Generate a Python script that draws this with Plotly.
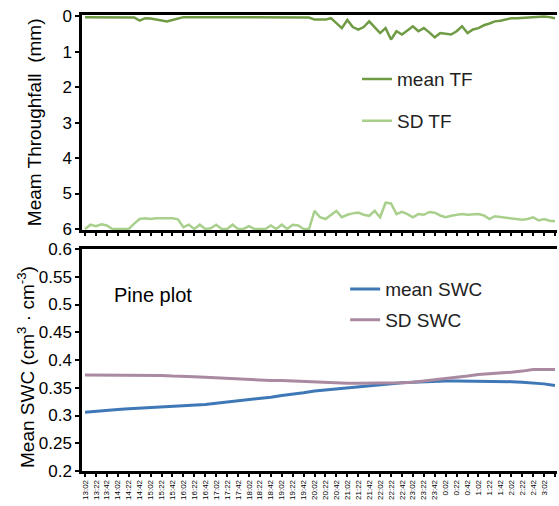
import plotly.graph_objects as go

time_labels = ["13:02", "13:22", "13:42", "14:02", "14:22", "14:42", "15:02", "15:22", "15:42",
               "16:02", "16:22", "16:42", "17:02", "17:22", "17:42", "18:02", "18:22", "18:42",
               "19:02", "19:22", "19:42", "20:02", "20:22", "20:42", "21:02", "21:22", "21:42",
               "22:02", "22:22", "22:42", "23:02", "23:22", "23:42", "0:02", "0:22", "0:42",
               "1:02", "1:22", "1:42", "2:02", "2:22", "2:42", "3:02", "3:22"]

# Throughfall, 10-minute steps (mm)
mean_tf = [0.02, 0.02, 0.02, 0.02, 0.02, 0.02, 0.02, 0.02, 0.02, 0.03,
           0.12, 0.05, 0.06, 0.08, 0.10, 0.14, 0.10, 0.05, 0.02,
           0.02, 0.02, 0.03, 0.02, 0.02, 0.02, 0.03, 0.02, 0.02, 0.02, 0.02,
           0.02, 0.03, 0.02, 0.02, 0.02, 0.02, 0.03, 0.02, 0.02, 0.02, 0.03,
           0.03, 0.09, 0.08, 0.09, 0.05, 0.20, 0.33, 0.10, 0.30, 0.37,
           0.30, 0.14, 0.30, 0.47, 0.33, 0.65, 0.42, 0.51, 0.40, 0.28,
           0.42, 0.33, 0.45, 0.59, 0.47, 0.50, 0.51, 0.42, 0.28, 0.47,
           0.37, 0.33, 0.25, 0.20, 0.14, 0.12, 0.08, 0.05, 0.05, 0.04,
           0.03, 0.03, 0.02, 0.00, 0.02, 0.05]
sd_tf = [6.0, 5.88, 5.92, 5.87, 5.9, 6.0, 6.0, 6.0, 6.0, 5.85,
         5.72, 5.70, 5.72, 5.70, 5.70, 5.72, 5.70, 5.73, 5.95, 5.88,
         6.0, 5.88, 6.0, 5.98, 5.88, 6.0, 6.0, 5.88, 6.0, 6.0,
         5.92, 6.0, 6.0, 6.0, 5.9, 6.0, 5.88, 6.0, 5.88, 5.9, 6.0, 6.0,
         5.49, 5.67, 5.72, 5.6, 5.49, 5.67, 5.6, 5.56, 5.54, 5.6,
         5.63, 5.49, 5.67, 5.26, 5.28, 5.58, 5.52, 5.58, 5.67, 5.58,
         5.6, 5.52, 5.54, 5.62, 5.67, 5.63, 5.6, 5.58, 5.6, 5.58,
         5.58, 5.62, 5.72, 5.64, 5.66, 5.68, 5.70, 5.72, 5.74, 5.72,
         5.67, 5.76, 5.72, 5.77, 5.78]

# Soil water content, 20-minute steps (cm3 cm-3)
mean_swc = [0.306, 0.308, 0.310, 0.311, 0.312, 0.313, 0.314, 0.315, 0.316, 0.318,
            0.319, 0.320, 0.322, 0.324, 0.326, 0.328, 0.331, 0.333, 0.336, 0.338,
            0.341, 0.344, 0.346, 0.348, 0.350, 0.352, 0.354, 0.356, 0.358, 0.359,
            0.360, 0.361, 0.362, 0.362, 0.362, 0.362, 0.362, 0.362, 0.361, 0.361,
            0.360, 0.359, 0.357, 0.354]
sd_swc = [0.373, 0.373, 0.373, 0.373, 0.373, 0.372, 0.372, 0.372, 0.371, 0.371,
          0.370, 0.369, 0.368, 0.367, 0.365, 0.364, 0.364, 0.363, 0.363, 0.362,
          0.361, 0.361, 0.360, 0.359, 0.358, 0.358, 0.358, 0.358, 0.358, 0.359,
          0.360, 0.362, 0.364, 0.366, 0.368, 0.371, 0.374, 0.375, 0.377, 0.378,
          0.380, 0.383, 0.383, 0.383]

tf_x = list(range(len(mean_tf)))
swc_x = [2 * i for i in range(len(mean_swc))]
tick_pos = [2 * i for i in range(len(time_labels))]

C_MTF = "#6f9b45"
C_SDTF = "#a8d08c"
C_MSWC = "#3f78b6"
C_SDSWC = "#a98aa0"
FONT = "Liberation Sans, Arial, sans-serif"

fig = go.Figure()
fig.add_trace(go.Scatter(x=tf_x, y=mean_tf, mode="lines", name="mean TF",
                         line=dict(color=C_MTF, width=2.5), xaxis="x", yaxis="y",
                         legend="legend", legendgroup="a"))
fig.add_trace(go.Scatter(x=tf_x, y=sd_tf, mode="lines", name="SD TF",
                         line=dict(color=C_SDTF, width=2.5), xaxis="x", yaxis="y",
                         legend="legend", legendgroup="b"))
fig.add_trace(go.Scatter(x=swc_x, y=mean_swc, mode="lines", name="mean SWC",
                         line=dict(color=C_MSWC, width=3), xaxis="x2", yaxis="y2",
                         legend="legend2", legendgroup="c"))
fig.add_trace(go.Scatter(x=swc_x, y=sd_swc, mode="lines", name="SD SWC",
                         line=dict(color=C_SDSWC, width=3), xaxis="x2", yaxis="y2",
                         legend="legend2", legendgroup="d"))

xr = [-0.55, 86.37]
top_dom = [0.5285, 1.0]
bot_dom = [0.0, 0.4868]

axis_common = dict(showgrid=False, zeroline=False, linecolor="black", linewidth=2.5,
                   tickcolor="black", tickwidth=2)

fig.update_layout(
    width=559, height=506,
    margin=dict(l=82, r=2, t=15, b=35),
    paper_bgcolor="white", plot_bgcolor="white",
    font=dict(family=FONT, color="black"),
    xaxis=dict(domain=[0, 1], anchor="y", range=xr, tickvals=tick_pos, ticktext=time_labels,
               showticklabels=False, ticks="outside", ticklen=3, showline=True, mirror=True,
               layer="below traces", **axis_common),
    yaxis=dict(domain=top_dom, anchor="x", range=[6.03, -0.04], tickvals=[0, 1, 2, 3, 4, 5, 6],
               ticks="outside", ticklen=4, showline=True, tickfont=dict(size=17),
               layer="below traces", **axis_common),
    yaxis3=dict(overlaying="y", side="right", anchor="x", range=[10.05, -0.07], dtick=1,
                ticks="inside", ticklen=3, showline=True, showticklabels=False,
                layer="below traces", **axis_common),
    xaxis2=dict(domain=[0, 1], anchor="y2", range=xr, tickvals=tick_pos, ticktext=time_labels,
                tickangle=-90, ticks="outside", ticklen=3, showline=True, mirror=True,
                tickfont=dict(size=8), **axis_common),
    yaxis2=dict(domain=bot_dom, anchor="x2", range=[0.2, 0.6],
                tickvals=[0.2, 0.25, 0.3, 0.35, 0.4, 0.45, 0.5, 0.55, 0.6],
                ticktext=["0.2", "0.25", "0.3", "0.35", "0.4", "0.45", "0.5", "0.55", "0.6"],
                ticks="outside", ticklen=4, showline=True, tickfont=dict(size=17), **axis_common),
    yaxis4=dict(overlaying="y2", side="right", anchor="x2", range=[-0.933, 5.48], dtick=1,
                ticks="outside", ticklen=3, showline=False, showticklabels=False,
                showgrid=False, zeroline=False, tickcolor="black", tickwidth=2),
    legend=dict(x=0.579, y=0.901, xanchor="left", yanchor="top", bgcolor="rgba(0,0,0,0)",
                font=dict(size=19, color="#222222"), tracegroupgap=14),
    legend2=dict(x=0.554, y=0.4406, xanchor="left", yanchor="top", bgcolor="rgba(0,0,0,0)",
                 font=dict(size=19, color="#222222"), tracegroupgap=3),
    annotations=[
        dict(text="Meam Throughfall  (mm)", xref="paper", yref="paper", x=-0.101, y=0.765,
             xanchor="center", yanchor="middle", textangle=-90, showarrow=False,
             font=dict(size=19, color="black")),
        dict(text="Mean SWC (cm<sup>3</sup> · cm<sup>-3</sup>)", xref="paper", yref="paper",
             x=-0.118, y=0.228, xanchor="center", yanchor="middle", textangle=-90,
             showarrow=False, font=dict(size=19, color="black")),
        dict(text="Pine plot", xref="paper", yref="paper", x=0.063, y=0.386,
             xanchor="left", yanchor="middle", showarrow=False,
             font=dict(size=20, color="black")),
    ],
)

fig.write_html("out.html")
